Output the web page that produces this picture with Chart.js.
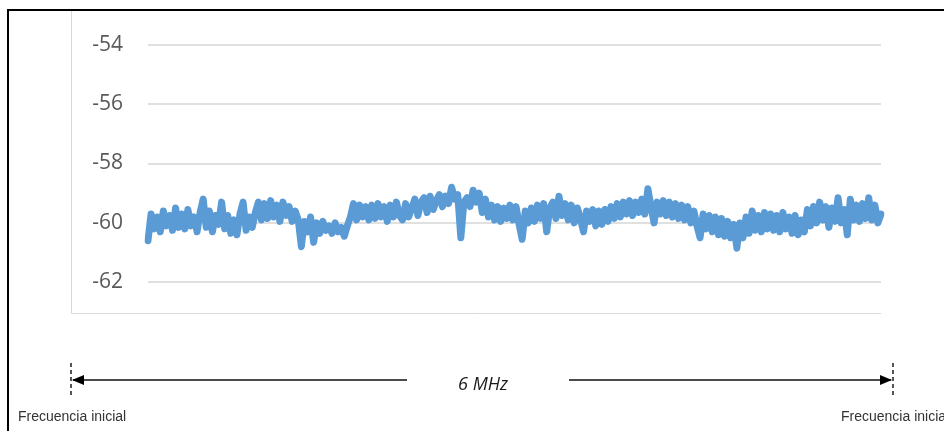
<!DOCTYPE html>
<html>
<head>
<meta charset="utf-8">
<script src="https://cdn.jsdelivr.net/npm/chart.js@4/dist/chart.umd.min.js"></script>
<style>
  html, body { margin: 0; padding: 0; background: #fff; }
  canvas { display: block; }
</style>
</head>
<body>
<canvas id="c" width="944" height="431"></canvas>
<script>
// Measured noise-floor level (dBm) across a 6 MHz span, left to right
const powerLevels = [
  -60.6, -59.7, -60.2, -59.8, -60.3, -59.6, -60.1, -59.75, -60.25, -59.5, -60.15, -59.7,
  -60.2, -59.55, -60.1, -59.8, -60.3, -59.65, -59.2, -60.15, -59.6, -60.3, -59.75, -60.05,
  -59.3, -60.2, -59.75, -60.35, -59.9, -60.4, -59.7, -59.3, -60.25, -59.8, -60.15, -59.65,
  -59.3, -59.9, -59.35, -59.85, -59.25, -59.8, -59.4, -59.95, -59.3, -59.75, -59.45, -59.95,
  -59.6, -59.9, -60.8, -59.95, -60.3, -59.8, -60.65, -60.0, -60.35, -59.95, -60.25, -60.1,
  -60.35, -60.0, -60.3, -60.15, -60.45, -60.1, -59.8, -59.35, -59.9, -59.4, -59.8, -59.45,
  -59.9, -59.4, -59.85, -59.35, -59.8, -59.45, -59.95, -59.4, -59.8, -59.3, -59.75, -59.9,
  -59.35, -59.8, -59.5, -59.2, -59.75, -59.3, -59.15, -59.65, -59.1, -59.55, -59.25, -59.05,
  -59.45, -59.1, -59.35, -58.8, -59.2, -59.05, -60.5, -59.3, -59.15, -59.45, -58.9, -59.3,
  -59.0, -59.65, -59.2, -59.8, -59.4, -59.9, -59.45, -59.95, -59.5, -59.85, -59.4, -59.9,
  -59.45, -60.05, -60.55, -59.6, -60.0, -59.5, -59.95, -59.4, -59.85, -59.35, -60.3, -59.5,
  -59.3, -59.85, -59.1, -59.75, -59.35, -59.9, -59.4, -60.0, -59.5, -59.85, -60.3, -59.6,
  -59.95, -59.55, -60.1, -59.6, -60.05, -59.55, -59.95, -59.45, -59.85, -59.35, -59.8, -59.3,
  -59.7, -59.25, -59.75, -59.3, -59.65, -59.2, -59.7, -58.85, -59.45, -60.0, -59.3, -59.7,
  -59.25, -59.75, -59.3, -59.8, -59.35, -59.85, -59.4, -59.9, -59.45, -60.0, -59.6, -60.1,
  -60.5, -59.7, -60.2, -59.75, -60.3, -59.8, -60.4, -59.85, -60.45, -59.95, -60.5, -60.05,
  -60.85, -60.0, -60.5, -59.8, -60.35, -59.6, -60.25, -59.75, -60.3, -59.65, -60.2, -59.7,
  -60.25, -59.75, -60.3, -59.65, -60.2, -59.8, -60.35, -59.75, -60.4, -59.9, -60.3, -59.55,
  -60.1, -59.45, -60.0, -59.3, -59.9, -59.45, -60.15, -59.5, -59.95, -59.15, -60.0, -59.55,
  -60.4, -59.2, -59.9, -59.4, -59.95, -59.35, -59.85, -59.15, -59.9, -59.4, -60.0, -59.7
];

// Sample index along the span
const sampleIndex = powerLevels.map((_, i) => i);

// Value-axis tick labels
const yTicks = [-62, -60, -58, -56, -54];
const yMin = -63;
const yMax = -53;

// Span annotation texts
const spanLabel = '6 MHz';
const startLabel = 'Frecuencia inicial';
const endLabel = 'Frecuencia inicial';

const whiteBg = {
  id: 'whiteBg',
  beforeDraw(chart) {
    const ctx = chart.ctx;
    ctx.save();
    ctx.fillStyle = '#ffffff';
    ctx.fillRect(0, 0, chart.width, chart.height);
    ctx.restore();
  }
};

// Frame, span arrow and frequency labels around the plot
const spanAnnotation = {
  id: 'spanAnnotation',
  beforeDatasetsDraw(chart) {
    const ctx = chart.ctx;
    const area = chart.chartArea;
    ctx.save();
    // light plot frame (left and bottom edges)
    ctx.strokeStyle = '#d9d9d9';
    ctx.lineWidth = 1;
    ctx.beginPath();
    ctx.moveTo(71.5, 10);
    ctx.lineTo(71.5, 313.5);
    ctx.lineTo(area.right, 313.5);
    ctx.stroke();
    ctx.restore();
  },
  afterDraw(chart) {
    const ctx = chart.ctx;
    ctx.save();

    // outer black border
    ctx.strokeStyle = '#000';
    ctx.lineWidth = 2;
    ctx.beginPath();
    ctx.moveTo(8, 431);
    ctx.lineTo(8, 10);
    ctx.lineTo(944, 10);
    ctx.stroke();

    const xL = 71, xR = 893, yA = 380;

    // dashed markers at both ends of the span
    ctx.strokeStyle = '#555';
    ctx.lineWidth = 2;
    ctx.setLineDash([4, 3]);
    [xL, xR].forEach(x => {
      ctx.beginPath();
      ctx.moveTo(x, 363);
      ctx.lineTo(x, 395);
      ctx.stroke();
    });
    ctx.setLineDash([]);

    // arrow shafts with a gap for the span text
    ctx.strokeStyle = '#111';
    ctx.lineWidth = 1.5;
    ctx.beginPath();
    ctx.moveTo(xL + 2, yA);
    ctx.lineTo(407, yA);
    ctx.moveTo(569, yA);
    ctx.lineTo(xR - 2, yA);
    ctx.stroke();

    // arrowheads
    ctx.fillStyle = '#000';
    ctx.beginPath();
    ctx.moveTo(xL + 1, yA);
    ctx.lineTo(xL + 13, yA - 5);
    ctx.lineTo(xL + 13, yA + 5);
    ctx.closePath();
    ctx.fill();
    ctx.beginPath();
    ctx.moveTo(xR - 1, yA);
    ctx.lineTo(xR - 13, yA - 5);
    ctx.lineTo(xR - 13, yA + 5);
    ctx.closePath();
    ctx.fill();

    // span text
    ctx.fillStyle = '#1a1a1a';
    ctx.font = 'italic 18px "Open Sans", "Liberation Sans", sans-serif';
    ctx.textAlign = 'center';
    ctx.textBaseline = 'alphabetic';
    ctx.fillText(spanLabel, 483, 390);

    // frequency labels
    ctx.fillStyle = '#333';
    ctx.font = '14px "Liberation Sans", Arial, sans-serif';
    ctx.textAlign = 'left';
    ctx.fillText(startLabel, 18, 421);
    ctx.fillText(endLabel, 841, 421);

    ctx.restore();
  }
};

new Chart(document.getElementById('c'), {
  type: 'line',
  data: {
    labels: sampleIndex,
    datasets: [{
      data: powerLevels,
      borderColor: '#5B9BD5',
      borderWidth: 7,
      pointRadius: 0,
      tension: 0,
      borderJoinStyle: 'round',
      borderCapStyle: 'round',
      fill: false
    }]
  },
  options: {
    responsive: false,
    animation: false,
    devicePixelRatio: 1,
    layout: { padding: { left: 71, right: 63, top: 15, bottom: 119 } },
    plugins: {
      legend: { display: false },
      tooltip: { enabled: false }
    },
    scales: {
      x: {
        display: false,
        offset: false
      },
      y: {
        min: yMin,
        max: yMax,
        afterBuildTicks(axis) {
          axis.ticks = yTicks.map(v => ({ value: v }));
        },
        afterFit(axis) {
          axis.width = 77;
          axis.paddingTop = 0;
          axis.paddingBottom = 0;
        },
        border: { display: false },
        grid: {
          color: '#e0e0e0',
          lineWidth: 2,
          drawTicks: false
        },
        ticks: {
          padding: 25,
          color: '#595959',
          font: { family: '"Open Sans", sans-serif', size: 21 },
          callback: v => String(v)
        }
      }
    }
  },
  plugins: [whiteBg, spanAnnotation]
});
</script>
</body>
</html>
